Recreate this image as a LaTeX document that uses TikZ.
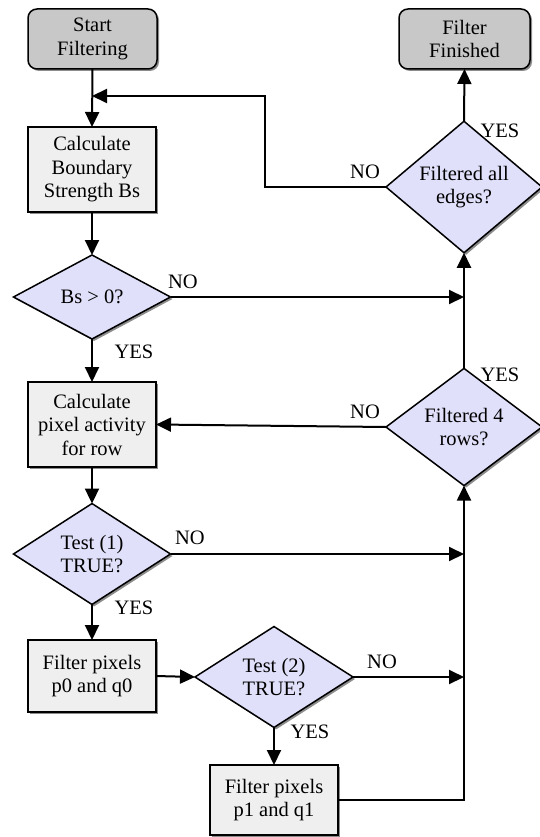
\documentclass[tikz,border=0pt]{standalone}
\usepackage{fontspec}
\setmainfont{Liberation Serif}
\usetikzlibrary{shapes.geometric,arrows.meta,shadows}
\definecolor{termfill}{RGB}{200,200,200}
\definecolor{boxfill}{RGB}{239,239,239}
\definecolor{decfill}{RGB}{224,224,250}
\begin{document}
\begin{tikzpicture}[x=1pt,y=-1pt,
  every node/.style={font=\fontsize{20.5}{23.5}\selectfont},
  shad/.style={drop shadow={shadow xshift=2pt,shadow yshift=-2pt,fill=black!45,opacity=1}},
  term/.style={draw,line width=1.5pt,rounded corners=9pt,fill=termfill,shad,align=center,minimum width=129pt,minimum height=60pt,inner sep=0pt,outer sep=0pt},
  proc/.style={draw,line width=1.5pt,fill=boxfill,shad,align=center,minimum width=128pt,inner sep=0pt,outer sep=0pt},
  dec/.style={draw,line width=1.5pt,diamond,fill=decfill,shad,align=center,minimum width=157pt,minimum height=84pt,inner sep=0pt,outer sep=0pt},
  arr/.style={line width=2pt,-{Triangle[length=15pt,width=14pt]}},
  lab/.style={inner sep=0pt}]
\useasboundingbox (0,0) rectangle (539,837);
% nodes
\node[term] (start) at (92.5,39) {Start\\Filtering};
\node[proc,minimum height=85pt] (calcbs) at (92,169.5) {Calculate\\Boundary\\Strength Bs};
\node[dec] (bs) at (92,297) {Bs > 0?};
\node[proc,minimum height=85pt] (calcpx) at (92,424.5) {Calculate\\pixel activity\\for row};
\node[dec] (test1) at (92,554) {Test (1)\\TRUE?};
\node[proc,minimum height=72pt] (fp0) at (92,676) {Filter pixels\\p0 and q0};
\node[dec,minimum width=158pt] (test2) at (274,677) {Test (2)\\TRUE?};
\node[proc,minimum height=70pt] (fp1) at (274,800) {Filter pixels\\p1 and q1};
\node[dec,minimum width=156pt,minimum height=85pt] (f4) at (464,427) {Filtered 4\\rows?};
\node[dec,minimum width=156pt,minimum height=83pt] (fall) at (464,187) {Filtered all\\edges?};
\node[term,minimum width=131pt] (fin) at (464.5,39) {Filter\\Finished};
% junction coordinates
\coordinate (m1) at (92,96);
\coordinate (c1) at (265,187);
\coordinate (j1) at (464,297);
\coordinate (j2) at (464,554);
\coordinate (j3) at (464,677);
% connectors
\draw[arr] (start.south) -- (calcbs.north);
\draw[arr] (fall.west) -- (c1) |- (m1);
\draw[arr] (calcbs.south) -- (bs.north);
\draw[arr] (bs.east) -- (j1);
\draw[arr] (bs.south) -- (calcpx.north);
\draw[arr] (f4.west) -- (calcpx.east);
\draw[arr] (f4.north) -- (fall.south);
\draw[arr] (fall.north) -- (fin.south);
\draw[arr] (calcpx.south) -- (test1.north);
\draw[arr] (test1.east) -- (j2);
\draw[arr] (test1.south) -- (fp0.north);
\draw[arr] (fp0.east) -- (test2.west);
\draw[arr] (test2.east) -- (j3);
\draw[arr] (test2.south) -- (fp1.north);
\draw[arr] (fp1.east) -| (f4.south);
% labels
\node[lab] (l1) at (183,282) {NO};
\node[lab] (l2) at (134,352) {YES};
\node[lab] (l3) at (365,412) {NO};
\node[lab] (l4) at (500,375) {YES};
\node[lab] (l5) at (365,172) {NO};
\node[lab] (l6) at (500,131) {YES};
\node[lab] (l7) at (190,538) {NO};
\node[lab] (l8) at (134,608) {YES};
\node[lab] (l9) at (382,662) {NO};
\node[lab] (l10) at (310,732) {YES};
\end{tikzpicture}
\end{document}
